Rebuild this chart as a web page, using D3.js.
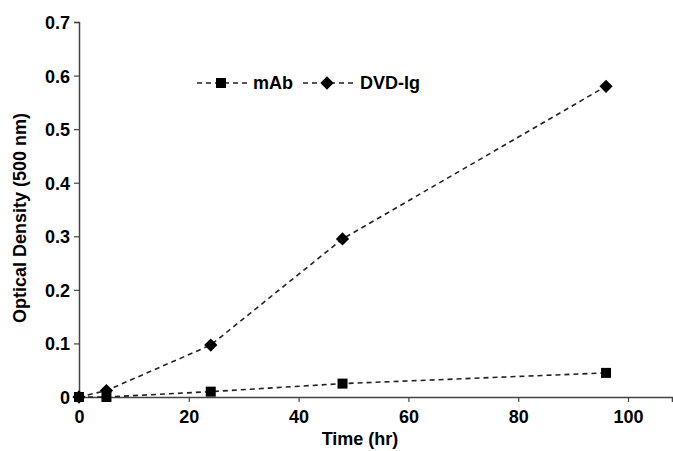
<!DOCTYPE html>
<html>
<head>
<meta charset="utf-8">
<script src="https://cdn.jsdelivr.net/npm/d3@7"></script>
<style>
  body { margin: 0; background: #fff; }
  text { font-family: "Liberation Sans", Arial, sans-serif; font-weight: bold; fill: #000; }
</style>
</head>
<body>
<div id="chart"></div>
<script>
// data
const hours = [0, 5, 24, 48, 96];
const mAb = [0, 0, 0.01, 0.025, 0.045];
const dvdIg = [0, 0.012, 0.097, 0.295, 0.58];
const xTicks = [0, 20, 40, 60, 80, 100];
const yTicks = [0, 0.1, 0.2, 0.3, 0.4, 0.5, 0.6, 0.7];

var width = 673, height = 451;
var x0 = 79, x1 = 672, y0 = 397, y1 = 22;

var svg = d3.select("#chart").append("svg")
    .attr("width", width)
    .attr("height", height);

var x = d3.scaleLinear().domain([0, (x1 - x0) / 5.49]).range([x0, x1]);
var y = d3.scaleLinear().domain([0, 0.7]).range([y0, y1]);

// axes
var xAxis = svg.append("g")
    .attr("transform", `translate(0,${y0})`)
    .call(d3.axisBottom(x).tickValues(xTicks).tickSize(5).tickPadding(5).tickFormat(d3.format("d")));
var yAxis = svg.append("g")
    .attr("transform", `translate(${x0},0)`)
    .call(d3.axisLeft(y).tickValues(yTicks).tickSize(5).tickPadding(4).tickFormat(d => d === 0 ? "0" : d3.format(".1f")(d)));

[xAxis, yAxis].forEach(g => {
    g.select(".domain").attr("stroke", "#444").attr("stroke-width", 1.5);
    g.selectAll(".tick line").attr("stroke", "#444").attr("stroke-width", 1.2);
    g.selectAll(".tick text").style("font-size", "18px").attr("fill", "#000");
});
xAxis.selectAll(".tick text").attr("dy", "0.9em");
yAxis.selectAll(".tick text").attr("dy", "0.36em");

// axis titles
svg.append("text")
    .attr("x", 360)
    .attr("y", 445)
    .attr("text-anchor", "middle")
    .style("font-size", "18px")
    .text("Time (hr)");

svg.append("text")
    .attr("transform", "translate(26,218) rotate(-90)")
    .attr("text-anchor", "middle")
    .style("font-size", "18px")
    .text("Optical Density (500 nm)");

// square and 45-degree diamond markers
var squareSym = d3.symbol().type(d3.symbolSquare).size(100);
var diamondSym = d3.symbol().type(d3.symbolSquare).size(88);

var line = d3.line().x(d => x(d[0])).y(d => y(d[1]));
var series = [
    { name: "mAb", values: hours.map((h, i) => [h, mAb[i]]), sym: squareSym, rot: 0 },
    { name: "DVD-Ig", values: hours.map((h, i) => [h, dvdIg[i]]), sym: diamondSym, rot: 45 }
];

// draw DVD-Ig first so the mAb square sits on top at t=0
series.slice().reverse().forEach(s => {
    svg.append("path")
        .attr("d", line(s.values))
        .attr("fill", "none")
        .attr("stroke", "#222")
        .attr("stroke-width", 1.6)
        .attr("stroke-dasharray", "5,4");
});
series.slice().reverse().forEach(s => {
    svg.selectAll(null)
        .data(s.values)
        .enter()
        .append("path")
        .attr("transform", d => `translate(${x(d[0])},${y(d[1])}) rotate(${s.rot})`)
        .attr("d", s.sym)
        .attr("fill", "#000");
});

// legend
var legendY = 83;
var legend = [
    { s: series[0], lx: 197, tx: 253 },
    { s: series[1], lx: 303, tx: 360 }
];
legend.forEach(l => {
    svg.append("line")
        .attr("x1", l.lx).attr("x2", l.lx + 52)
        .attr("y1", legendY).attr("y2", legendY)
        .attr("stroke", "#222")
        .attr("stroke-width", 1.6)
        .attr("stroke-dasharray", "5,4");
    svg.append("path")
        .attr("transform", `translate(${l.lx + 24},${legendY}) rotate(${l.s.rot})`)
        .attr("d", l.s.sym)
        .attr("fill", "#000");
    svg.append("text")
        .attr("x", l.tx)
        .attr("y", legendY)
        .attr("dy", "0.36em")
        .style("font-size", "18px")
        .text(l.s.name);
});
</script>
</body>
</html>
